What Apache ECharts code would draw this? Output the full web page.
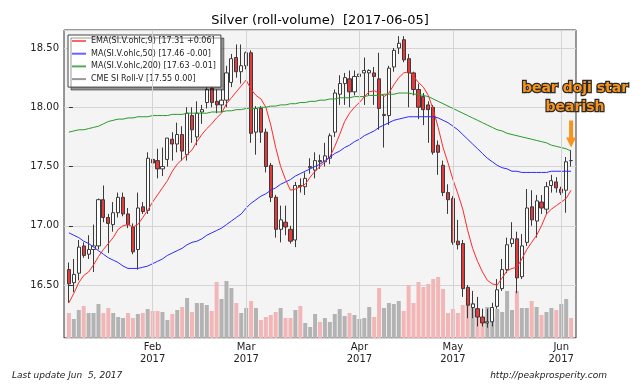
<!DOCTYPE html>
<html><head><meta charset="utf-8">
<script src="https://cdn.jsdelivr.net/npm/echarts@6/dist/echarts.min.js"></script>
<style>html,body{margin:0;padding:0;background:#fff}#c{width:640px;height:384px}</style>
</head><body><div id="c"></div>
<script>
const dates = [
'2017-01-06','2017-01-09','2017-01-10','2017-01-11','2017-01-12','2017-01-13','2017-01-17','2017-01-18','2017-01-19','2017-01-20',
'2017-01-23','2017-01-24','2017-01-25','2017-01-26','2017-01-27','2017-01-30','2017-01-31',
'2017-02-01','2017-02-02','2017-02-03','2017-02-06','2017-02-07','2017-02-08','2017-02-09','2017-02-10','2017-02-13','2017-02-14',
'2017-02-15','2017-02-16','2017-02-17','2017-02-21','2017-02-22','2017-02-23','2017-02-24','2017-02-27','2017-02-28',
'2017-03-01','2017-03-02','2017-03-03','2017-03-06','2017-03-07','2017-03-08','2017-03-09','2017-03-10','2017-03-13','2017-03-14',
'2017-03-15','2017-03-16','2017-03-17','2017-03-20','2017-03-21','2017-03-22','2017-03-23','2017-03-24','2017-03-27','2017-03-28',
'2017-03-29','2017-03-30','2017-03-31',
'2017-04-03','2017-04-04','2017-04-05','2017-04-06','2017-04-07','2017-04-10','2017-04-11','2017-04-12','2017-04-13','2017-04-17',
'2017-04-18','2017-04-19','2017-04-20','2017-04-21','2017-04-24','2017-04-25','2017-04-26','2017-04-27','2017-04-28',
'2017-05-01','2017-05-02','2017-05-03','2017-05-04','2017-05-05','2017-05-08','2017-05-09','2017-05-10','2017-05-11','2017-05-12',
'2017-05-15','2017-05-16','2017-05-17','2017-05-18','2017-05-19','2017-05-22','2017-05-23','2017-05-24','2017-05-25','2017-05-26',
'2017-05-30','2017-05-31',
'2017-06-01','2017-06-02','2017-06-05'
];
const opens = [
16.63,16.52,16.60,16.83,16.76,16.80,16.83,17.22,17.07,17.01,
17.11,17.24,17.10,16.99,16.80,17.16,17.13,17.56,17.55,17.48,
17.56,17.73,17.69,17.77,17.60,17.93,17.75,17.96,18.04,18.16,
18.05,18.02,18.06,18.21,18.42,18.30,18.35,18.46,17.79,17.99,
17.79,17.51,17.24,16.97,17.03,16.97,16.88,17.34,17.33,17.49,
17.47,17.55,17.54,17.57,17.79,18.11,18.20,18.24,18.13,18.26,
18.29,18.29,18.29,18.24,17.93,17.93,18.34,18.50,18.57,18.41,
18.29,18.15,18.09,18.02,18.00,17.68,17.51,17.28,17.23,16.87,
16.85,16.48,16.31,16.30,16.23,16.18,16.19,16.32,16.47,16.63,
16.85,16.89,16.57,16.86,17.16,17.04,17.20,17.14,17.34,17.37,
17.31,17.30,17.55
];
const closes = [
16.51,16.59,16.82,16.75,16.80,16.83,17.22,17.07,17.02,17.11,
17.24,17.10,17.01,16.78,17.15,17.12,17.57,17.53,17.48,17.50,
17.74,17.69,17.77,17.63,17.95,17.81,17.95,17.98,18.15,18.04,
18.02,18.06,18.29,18.41,18.30,18.35,18.46,17.78,17.99,17.79,
17.50,17.24,16.97,17.05,16.99,16.87,17.34,17.33,17.40,17.50,
17.55,17.54,17.59,17.76,18.12,18.20,18.25,18.13,18.26,18.28,
18.31,18.31,18.26,17.99,17.94,18.33,18.48,18.54,18.40,18.29,
18.15,18.00,17.98,17.98,17.62,17.62,17.28,17.22,16.86,16.84,
16.47,16.33,16.34,16.23,16.18,16.19,16.31,16.46,16.63,16.84,
16.89,16.56,16.83,17.15,17.05,17.21,17.15,17.33,17.38,17.32,
17.28,17.54,17.55
];
const lows = [
16.35,16.44,16.54,16.73,16.72,16.61,16.80,17.03,16.77,16.95,
17.07,17.08,16.98,16.76,16.63,17.10,17.10,17.45,17.40,17.42,
17.50,17.55,17.62,17.55,17.55,17.70,17.68,17.86,17.99,18.00,
17.95,17.96,18.00,18.17,18.25,18.20,18.32,17.70,17.60,17.70,
17.45,17.20,16.90,16.86,16.92,16.85,16.82,17.28,17.26,17.44,
17.40,17.48,17.50,17.52,17.75,18.02,18.02,18.00,18.10,18.15,
18.02,18.10,18.02,17.81,17.66,17.85,18.30,18.45,18.38,18.00,
18.10,17.90,17.85,17.70,17.60,17.43,17.25,17.10,16.84,16.80,
16.40,16.22,16.22,16.15,16.15,16.14,16.15,16.30,16.45,16.60,
16.82,16.43,16.55,16.83,17.00,16.90,17.10,17.10,17.28,17.28,
17.26,17.11,17.50
];
const highs = [
16.69,16.72,16.88,16.86,16.92,17.01,17.23,17.34,17.10,17.20,
17.28,17.28,17.15,17.02,17.28,17.20,17.62,17.60,17.65,17.66,
17.74,17.79,17.87,17.84,18.00,18.00,18.05,18.02,18.24,18.20,
18.15,18.15,18.35,18.45,18.53,18.53,18.47,18.48,18.01,18.01,
17.82,17.53,17.26,17.17,17.17,17.00,17.37,17.40,17.45,17.57,
17.62,17.60,17.70,17.78,18.15,18.27,18.29,18.31,18.31,18.30,
18.42,18.32,18.34,18.46,18.10,18.35,18.50,18.60,18.60,18.45,
18.30,18.20,18.12,18.05,18.02,17.72,17.55,17.35,17.25,17.05,
16.88,16.50,16.45,16.40,16.30,16.30,16.35,16.55,16.72,16.90,
17.03,16.95,16.93,17.31,17.30,17.26,17.26,17.37,17.43,17.41,
17.33,17.58,17.64
];
const volumes = [
25,19,28,32,25,25,34,25,30,25,
21,20,25,20,24,25,29,27,27,26,
18,24,28,31,40,26,35,35,33,27,
56,39,57,50,35,25,30,37,30,18,
21,23,26,30,20,20,28,32,15,11,
24,16,20,16,24,29,22,25,23,19,
20,31,21,50,30,35,34,37,27,53,
35,56,51,54,59,61,49,25,29,25,
33,40,35,30,21,31,21,29,26,47,
28,47,30,30,37,31,23,26,30,28,
34,39,20
];
const volumeDown = [
1,0,0,1,0,0,0,1,1,0,
0,0,1,1,0,1,0,1,1,0,
0,1,0,1,0,1,0,0,0,1,
1,0,0,0,1,0,0,1,0,1,
1,1,1,0,1,1,0,1,0,0,
0,1,0,0,0,0,0,1,0,0,
0,0,1,1,0,0,0,0,1,1,
1,1,1,1,1,1,1,1,1,1,
1,1,0,1,1,0,0,0,0,0,
0,1,0,0,1,0,1,0,0,1,
0,0,1
];
const ema9 = [
16.35,16.43,16.52,16.58,16.61,16.67,16.74,16.80,16.85,16.90,
16.97,17.00,17.01,16.99,17.01,17.07,17.13,17.20,17.26,17.32,
17.38,17.46,17.52,17.56,17.60,17.64,17.71,17.77,17.82,17.86,
17.91,17.95,18.03,18.08,18.13,18.18,18.23,18.15,18.10,18.07,
18.00,17.85,17.66,17.50,17.39,17.30,17.31,17.33,17.35,17.41,
17.46,17.50,17.54,17.58,17.67,17.77,17.88,17.95,18.00,18.04,
18.09,18.13,18.14,18.12,18.09,18.12,18.19,18.25,18.29,18.30,
18.26,18.21,18.17,18.10,17.98,17.83,17.66,17.53,17.39,17.27,
17.14,16.96,16.81,16.70,16.61,16.54,16.51,16.50,16.56,16.62,
16.64,16.65,16.72,16.80,16.86,16.92,17.00,17.10,17.14,17.17,
17.20,17.23,17.30
];
const ma50 = [
16.94,16.92,16.90,16.87,16.85,16.82,16.79,16.76,16.73,16.71,
16.69,16.66,16.64,16.64,16.64,16.65,16.66,16.68,16.70,16.72,
16.75,16.77,16.79,16.81,16.84,16.86,16.87,16.89,16.92,16.94,
16.96,16.98,17.01,17.04,17.07,17.10,17.15,17.19,17.22,17.25,
17.27,17.30,17.32,17.35,17.37,17.39,17.42,17.44,17.46,17.48,
17.50,17.52,17.55,17.58,17.61,17.63,17.66,17.68,17.71,17.73,
17.76,17.78,17.80,17.83,17.85,17.87,17.89,17.90,17.91,17.92,
17.92,17.92,17.92,17.92,17.92,17.91,17.89,17.87,17.84,17.81,
17.77,17.73,17.69,17.65,17.61,17.57,17.54,17.51,17.49,17.48,
17.46,17.46,17.45,17.45,17.45,17.45,17.45,17.45,17.46,17.46,
17.46,17.46,17.46
];
const ma200 = [
17.79,17.80,17.81,17.81,17.82,17.83,17.84,17.86,17.88,17.89,
17.90,17.90,17.91,17.91,17.92,17.92,17.92,17.93,17.93,17.93,
17.93,17.94,17.94,17.94,17.95,17.95,17.95,17.95,17.95,17.96,
17.96,17.96,17.97,17.97,17.98,17.98,17.99,17.99,17.99,18.00,
18.00,18.01,18.01,18.02,18.02,18.03,18.03,18.04,18.04,18.05,
18.05,18.06,18.06,18.07,18.07,18.08,18.08,18.08,18.09,18.09,
18.09,18.10,18.10,18.10,18.11,18.11,18.11,18.12,18.12,18.12,
18.11,18.11,18.10,18.09,18.07,18.05,18.03,18.01,17.99,17.97,
17.95,17.93,17.91,17.89,17.87,17.85,17.83,17.81,17.80,17.78,
17.77,17.76,17.75,17.74,17.73,17.72,17.71,17.70,17.68,17.67,
17.66,17.65,17.63
];
const monthNames = ['Jan','Feb','Mar','Apr','May','Jun','Jul','Aug','Sep','Oct','Nov','Dec'];
const seriesNames = ['EMA(SI.V.ohlc,9) [17.31 +0.06]','MA(SI.V.ohlc,50) [17.46 -0.00]','MA(SI.V.ohlc,200) [17.63 -0.01]','CME SI Roll-V [17.55 0.00]'];
const titleText = 'Silver (roll-volume)  [2017-06-05]';
const annotationText = 'bear doji star\nbearish';
const footLeft = 'Last update Jun  5, 2017';
const footRight = 'http://peakprosperity.com';

// first trading day of each month (excluding the first bar)
const monthStarts = [];
dates.forEach((d, i) => { if (i > 0 && d.slice(5, 7) !== dates[i - 1].slice(5, 7)) monthStarts.push(i); });
const last = dates.length - 1;

const FONT = 'DejaVu Sans';
const chart = echarts.init(document.getElementById('c'), null, {renderer: 'canvas'});
chart.setOption({
  animation: false,
  backgroundColor: '#ffffff',
  title: {text: titleText, left: 'center', top: 14, padding: 0,
    textStyle: {fontSize: 13, fontWeight: 'normal', fontFamily: FONT, color: '#000'}},
  legend: {
    orient: 'vertical', left: 68, top: 35, padding: [1, 5, 3, 4], itemGap: 2.7,
    itemWidth: 14, itemHeight: 2, icon: 'rect',
    backgroundColor: '#ffffff', borderColor: '#444', borderWidth: 1,
    shadowColor: 'rgba(0,0,0,0.4)', shadowOffsetX: 3, shadowOffsetY: 3, shadowBlur: 0,
    textStyle: {fontSize: 8, fontFamily: FONT, color: '#222', lineHeight: 10},
    data: [
      {name: seriesNames[0], itemStyle: {color: '#ff6666'}},
      {name: seriesNames[1], itemStyle: {color: '#6666ff'}},
      {name: seriesNames[2], itemStyle: {color: '#55aa55'}},
      {name: seriesNames[3], itemStyle: {color: '#999999', borderWidth: 0}}
    ]
  },
  grid: {left: 64, right: 64, top: 30, bottom: 46, show: true,
    backgroundColor: '#f4f4f4', borderColor: '#333', borderWidth: 1},
  xAxis: {
    type: 'value', min: -1, max: dates.length,
    axisLine: {show: false},
    axisTick: {show: true, inside: true, length: 4, customValues: monthStarts, lineStyle: {color: '#333'}},
    axisLabel: {customValues: monthStarts, fontSize: 10, fontFamily: FONT, color: '#222', lineHeight: 12, margin: 3,
      formatter: v => { const d = dates[Math.round(v)]; return monthNames[+d.slice(5, 7) - 1] + '\n' + d.slice(0, 4); }},
    splitLine: {show: false}
  },
  yAxis: [{
    type: 'value', min: 16.053, max: 18.652, splitNumber: 5,
    axisLine: {show: false},
    axisTick: {show: true, inside: true, length: 4, lineStyle: {color: '#333'}},
    axisLabel: {fontSize: 10, fontFamily: FONT, color: '#222', margin: 5, showMinLabel: false, showMaxLabel: false,
      formatter: v => v.toFixed(2)},
    splitLine: {lineStyle: {color: '#d4d4d4', width: 1}}
  }, {
    type: 'value', min: 0, max: 308, show: false, splitLine: {show: false}
  }],
  graphic: [
    {type: 'text', left: 12, top: 371, style: {text: footLeft, font: 'italic 9px "DejaVu Sans"', fill: '#222'}},
    {type: 'text', right: 33, top: 371, style: {text: footRight, font: 'italic 9px "DejaVu Sans"', fill: '#222'}}
  ],
  series: [
    {
      type: 'bar', name: 'volume', yAxisIndex: 1, barWidth: 4, z: 1,
      data: volumes.map((v, i) => ({value: [i, v], itemStyle: {color: volumeDown[i] ? '#f2b6b6' : '#b3b3b3'}})),
      markLine: {silent: true, symbol: 'none', label: {show: false},
        lineStyle: {color: '#d4d4d4', width: 1, type: 'solid'},
        data: monthStarts.map(i => ({xAxis: i}))}
    },
    {
      type: 'candlestick', name: seriesNames[3], z: 3, barWidth: 3.6,
      data: dates.map((d, i) => [i, opens[i], closes[i], lows[i], highs[i]]),
      encode: {x: 0, y: [1, 2, 3, 4]},
      itemStyle: {color: '#ffffff', color0: '#e8383a', borderColor: '#3a3a3a', borderColor0: '#3a3a3a', borderColorDoji: '#3a3a3a', borderWidth: 1},
      markPoint: {
        silent: true,
        data: [
          {coord: [last, 17.775], symbol: 'path://M3,0 L7,0 L7,17 L10,17 L5,27 L0,17 L3,17 Z', symbolSize: [10, 27],
            itemStyle: {color: '#f7941d'}, label: {show: false}},
          {coord: [last + 0.8, 18.08], symbol: 'circle', symbolSize: 0,
            label: {show: true, formatter: annotationText, position: 'inside', fontSize: 14, fontWeight: 'bold', fontFamily: FONT,
              color: '#f7941d', textBorderColor: '#2a2a2a', textBorderWidth: 2.5, lineHeight: 19, align: 'center'}}
        ]
      }
    },
    {type: 'line', name: seriesNames[0], z: 4, symbol: 'none', data: ema9.map((v, i) => [i, v]),
      lineStyle: {color: '#ff2a2a', width: 1}, itemStyle: {color: '#ff2a2a'}},
    {type: 'line', name: seriesNames[1], z: 4, symbol: 'none', data: ma50.map((v, i) => [i, v]),
      lineStyle: {color: '#2b2bff', width: 1}, itemStyle: {color: '#2b2bff'}},
    {type: 'line', name: seriesNames[2], z: 4, symbol: 'none', data: ma200.map((v, i) => [i, v]),
      lineStyle: {color: '#2a992a', width: 1}, itemStyle: {color: '#2a992a'}}
  ]
});
</script>
</body></html>
